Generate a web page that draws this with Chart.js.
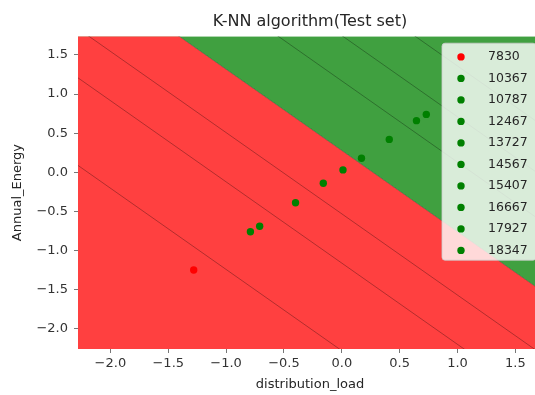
<!DOCTYPE html>
<html>
<head>
<meta charset="utf-8">
<title>K-NN algorithm(Test set)</title>
<script src="https://cdn.jsdelivr.net/npm/chart.js@4.4.1/dist/chart.umd.min.js"></script>
<style>
  html, body { margin: 0; padding: 0; background: #fff; overflow: hidden; }
  #wrap { width: 546px; height: 395px; }
</style>
</head>
<body>
<div id="wrap"><canvas id="knn" width="546" height="395"></canvas></div>
<script>
// test set (scaled features) and the class label of each point
const testLabels = ["7830", "10367", "10787", "12467", "13727", "14567", "15407", "16667", "17927", "18347"];
const distributionLoad = [-1.28, -0.79, -0.71, -0.40, -0.16, 0.01, 0.17, 0.41, 0.645, 0.73];
const annualEnergy = [-1.25, -0.76, -0.69, -0.39, -0.14, 0.03, 0.18, 0.42, 0.66, 0.74];
const classIndex = [0, 1, 1, 1, 1, 1, 1, 1, 1, 1]; // 0 -> red, others -> green

// boundary between the red and green predicted regions
const boundaryX = [-2.6, 2.0];
const boundaryY = [2.98, -1.80];

// faint contour seams inside the regions
const seamX = [-2.6, 2.0];
const seamsY = [
  [0.42, -4.36],
  [1.54, -3.24],
  [2.17, -2.61],
  [3.87, -0.91],
  [4.45, -0.33],
  [5.10, 0.32]
];

const xTicks = [-2.0, -1.5, -1.0, -0.5, 0.0, 0.5, 1.0, 1.5];
const yTicks = [-2.0, -1.5, -1.0, -0.5, 0.0, 0.5, 1.0, 1.5];
const xRange = [-2.28, 1.73];
const yRange = [-2.26, 1.74];

const pointColors = ["#ff0000", "#008000"];
const regionColors = ["rgb(255,64,64)", "rgb(64,160,64)"];
const FONT = "'DejaVu Sans', sans-serif";

const toPoints = (xs, ys) => xs.map((x, i) => ({ x: x, y: ys[i] }));
const fmt = v => v.toFixed(1).replace("-", "\u2212");

const datasets = [];

// scatter points, one dataset per label like plt.scatter in a loop
testLabels.forEach((lab, i) => {
  datasets.push({
    label: lab,
    data: [{ x: distributionLoad[i], y: annualEnergy[i] }],
    backgroundColor: pointColors[classIndex[i]],
    borderWidth: 0,
    pointRadius: 3.7,
    order: 0
  });
});

// seams
seamsY.forEach(ys => {
  datasets.push({
    data: toPoints(seamX, ys),
    showLine: true,
    pointRadius: 0,
    borderColor: "rgba(0,0,0,0.3)",
    borderWidth: 1,
    fill: false,
    order: 1
  });
});

// regions
datasets.push({
  data: toPoints(boundaryX, boundaryY),
  showLine: true,
  pointRadius: 0,
  borderColor: "rgba(0,0,0,0.3)",
  borderWidth: 1,
  backgroundColor: regionColors[1],
  fill: "end",
  order: 2
});
datasets.push({
  data: toPoints(boundaryX, boundaryY),
  showLine: true,
  pointRadius: 0,
  borderWidth: 0,
  backgroundColor: regionColors[0],
  fill: "start",
  order: 3
});

// matplotlib style legend box in the upper right corner of the axes
const legendBox = {
  id: "legendBox",
  afterDatasetsDraw(chart) {
    const { ctx, chartArea } = chart;
    const w = 94, rowH = 21.5;
    const left = chartArea.right - 6 - w;
    const top = chartArea.top + 7;
    const h = 217;
    ctx.save();
    ctx.beginPath();
    ctx.roundRect(left, top, w, h, 3);
    ctx.fillStyle = "rgba(255,255,255,0.8)";
    ctx.fill();
    ctx.strokeStyle = "rgba(204,204,204,0.8)";
    ctx.lineWidth = 1;
    ctx.stroke();
    ctx.font = "12.5px " + FONT;
    ctx.textBaseline = "middle";
    testLabels.forEach((lab, i) => {
      const cy = top + 13.7 + i * rowH;
      ctx.beginPath();
      ctx.arc(left + 19, cy, 3.7, 0, Math.PI * 2);
      ctx.fillStyle = pointColors[classIndex[i]];
      ctx.fill();
      ctx.fillStyle = "#262626";
      ctx.fillText(lab, left + 46, cy);
    });
    ctx.restore();
  }
};

new Chart(document.getElementById("knn"), {
  type: "scatter",
  data: { datasets: datasets },
  plugins: [legendBox],
  options: {
    responsive: false,
    animation: false,
    layout: { padding: { left: 0, right: 2, top: 0, bottom: 0 } },
    plugins: {
      legend: { display: false },
      tooltip: { enabled: false },
      title: {
        display: true,
        text: "K-NN algorithm(Test set)",
        fullSize: false,
        color: "#262626",
        font: { family: FONT, size: 16, weight: "normal" },
        padding: { top: 12, bottom: 5 }
      }
    },
    scales: {
      x: {
        type: "linear",
        min: xRange[0],
        max: xRange[1],
        afterBuildTicks: axis => { axis.ticks = xTicks.map(v => ({ value: v })); },
        afterFit: axis => { axis.height = 46; },
        grid: { display: true, drawOnChartArea: false, drawTicks: true, tickLength: 4, color: "#777" },
        border: { display: false },
        ticks: {
          padding: 3,
          color: "#333",
          font: { family: FONT, size: 13 },
          callback: v => fmt(v),
          maxRotation: 0
        },
        title: {
          display: true,
          text: "distribution_load",
          color: "#262626",
          font: { family: FONT, size: 13 },
          padding: { top: 0, bottom: 3 }
        }
      },
      y: {
        type: "linear",
        min: yRange[0],
        max: yRange[1],
        afterBuildTicks: axis => { axis.ticks = yTicks.map(v => ({ value: v })); },
        afterFit: axis => { axis.width = 78; },
        grid: { display: true, drawOnChartArea: false, drawTicks: true, tickLength: 4, color: "#777" },
        border: { display: false },
        ticks: {
          padding: 6,
          color: "#333",
          font: { family: FONT, size: 13 },
          callback: v => fmt(v)
        },
        title: {
          display: true,
          text: "Annual_Energy",
          color: "#262626",
          font: { family: FONT, size: 13 },
          padding: { top: 10, bottom: 10 }
        }
      }
    }
  }
});
</script>
</body>
</html>
